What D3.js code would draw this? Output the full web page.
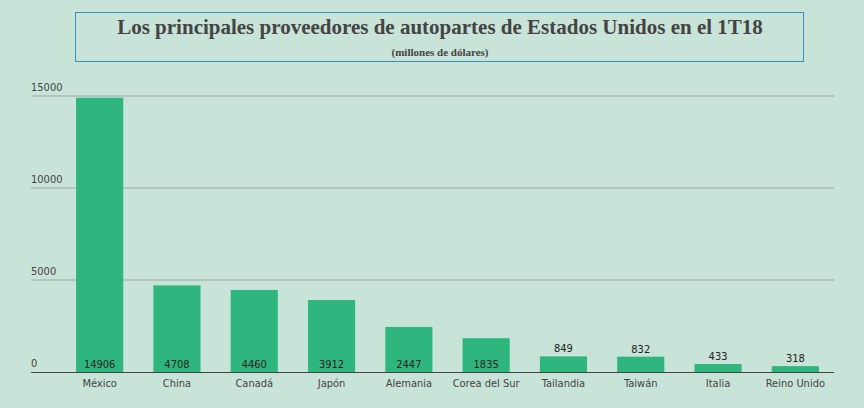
<!DOCTYPE html>
<html><head><meta charset="utf-8">
<script src="https://cdn.jsdelivr.net/npm/d3@7.9.0/dist/d3.min.js"></script>
<style>
body{margin:0;background:#c8e3d8;}
text{font-family:"Liberation Sans Narrow","DejaVu Sans Condensed",sans-serif;}
</style></head><body>
<svg id="chart" width="864" height="408"></svg>
<script>
const countries = ['México','China','Canadá','Japón','Alemania','Corea del Sur','Tailandia','Taiwán','Italia','Reino Unido'];
const values = [14906, 4708, 4460, 3912, 2447, 1835, 849, 832, 433, 318];
const yTicks = [0, 5000, 10000, 15000];

const svg = d3.select('#chart');
const x = d3.scaleBand().domain(countries).range([61, 834]).paddingInner(0.39).paddingOuter(0.195);
const y = d3.scaleLinear().domain([0, 15000]).range([372, 96]);

// title box
svg.append('rect').attr('x', 75.5).attr('y', 12.5).attr('width', 728).attr('height', 49)
  .attr('fill', 'none').attr('stroke', '#3a8fc4').attr('stroke-width', 1);
svg.append('text').attr('x', 440).attr('y', 34).attr('text-anchor', 'middle')
  .style('font-family', '"Liberation Serif",serif').style('font-weight', 'bold')
  .style('font-size', '21px').attr('fill', '#444').text('Los principales proveedores de autopartes de Estados Unidos en el 1T18');
svg.append('text').attr('x', 440).attr('y', 56).attr('text-anchor', 'middle')
  .style('font-family', '"Liberation Serif",serif').style('font-weight', 'bold')
  .style('font-size', '11px').attr('fill', '#444').text('(millones de dólares)');

// gridlines + tick labels
yTicks.forEach(t => {
  if (t > 0) svg.append('line').attr('x1', 31).attr('x2', 834).attr('y1', y(t)).attr('y2', y(t))
    .attr('stroke', '#9aaba3').attr('stroke-width', 1);
  svg.append('text').attr('x', 31).attr('y', y(t) - 5).attr('font-size', 11).attr('fill', '#444').text(t);
});

svg.selectAll('rect.bar').data(values).join('rect').attr('class', 'bar')
  .attr('x', (d, i) => x(countries[i])).attr('width', x.bandwidth())
  .attr('y', d => y(d)).attr('height', d => y(0) - y(d)).attr('fill', '#2fb67e');

svg.selectAll('text.val').data(values).join('text').attr('class', 'val')
  .attr('x', (d, i) => x(countries[i]) + x.bandwidth() / 2)
  .attr('y', d => (y(0) - y(d) > 20 ? 368 : y(d) - 4))
  .attr('text-anchor', 'middle').attr('font-size', 11).attr('fill', '#222').text(d => d);

svg.append('line').attr('x1', 31).attr('x2', 834).attr('y1', 372.5).attr('y2', 372.5)
  .attr('stroke', '#444').attr('stroke-width', 1.2);

svg.selectAll('text.cat').data(countries).join('text').attr('class', 'cat')
  .attr('x', d => x(d) + x.bandwidth() / 2).attr('y', 387)
  .attr('text-anchor', 'middle').attr('font-size', 11).attr('fill', '#444').text(d => d);
</script></body></html>
